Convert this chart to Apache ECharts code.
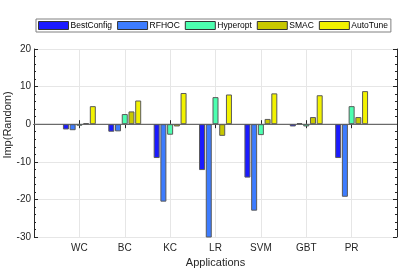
<!DOCTYPE html>
<html><head><meta charset="utf-8">
<script src="https://cdn.jsdelivr.net/npm/echarts@6/dist/echarts.min.js"></script>
<style>html,body{margin:0;padding:0;background:#fff}#c{width:399px;height:269px}</style>
</head><body><div id="c"></div>
<script>
var categories = ['WC','BC','KC','LR','SVM','GBT','PR'];
var seriesNames = ['BestConfig','RFHOC','Hyperopt','SMAC','AutoTune'];
var bestConfig = [-1.4,-2.0,-9.0,-12.2,-14.2,-0.6,-9.0];
var rfhoc      = [-1.6,-1.9,-20.6,-31.0,-23.0,0.3,-19.3];
var hyperopt   = [-0.4,2.7,-2.8,7.2,-2.9,-0.6,4.8];
var smac       = [0.3,3.4,-0.6,-3.1,1.4,1.9,1.9];
var autoTune   = [4.8,6.3,8.3,7.9,8.2,7.7,8.8];
var yTicks = [-30,-20,-10,0,10,20];
var colors = ['#1a1aff','#3d7cff','#4dffb0','#c8c800','#f2f200'];

var allValues = [bestConfig, rfhoc, hyperopt, smac, autoTune];
var xcats = [''].concat(categories).concat(['']);
var font = 'Liberation Sans, Arial, sans-serif';
var series = seriesNames.map(function(n,i){
  return {
    name:n, type:'bar', barWidth:6, barGap:'12%',
    data:['-'].concat(allValues[i]).concat(['-']),
    itemStyle:{color:colors[i], borderColor:'#5a5a5a', borderWidth:1},
    clip:true
  };
});
series.push({type:'line', data:[0,0,0,0,0,0,0,0,0], symbol:'none', silent:true,
  lineStyle:{color:'#8a8a8a', width:1}, z:1, legendHoverLink:false});
var chart = echarts.init(document.getElementById('c'), null, {renderer:'canvas'});
chart.setOption({
  animation:false,
  backgroundColor:'#fff',
  textStyle:{fontFamily:font},
  legend:{
    data:seriesNames, top:19, left:36,
    itemWidth:30, itemHeight:8, itemGap:5,
    borderColor:'#808080', borderWidth:1, padding:[2,3,2,2],
    icon:'rect',
    textStyle:{fontSize:8.5, color:'#000', fontFamily:font, padding:[0,0,0,-3]},
    itemStyle:{borderColor:'#333', borderWidth:1}
  },
  grid:{left:34, right:2, top:49, bottom:32, containLabel:false, outerBoundsMode:'none'},
  xAxis:[{
    type:'category', data:xcats, boundaryGap:false,
    axisLine:{lineStyle:{color:'#262626'}},
    axisTick:{show:true, inside:true, length:4, lineStyle:{color:'#262626'}},
    axisLabel:{fontSize:10, color:'#262626', margin:6},
    splitLine:{show:true, lineStyle:{color:'#e6e6e6'}},
    name:'Applications', nameLocation:'middle', nameGap:20,
    nameTextStyle:{fontSize:11, color:'#262626'}
  },{
    type:'category', data:xcats, boundaryGap:false, position:'top',
    axisLine:{lineStyle:{color:'#262626'}},
    axisTick:{show:true, inside:true, length:4, lineStyle:{color:'#262626'}},
    axisLabel:{show:false}, splitLine:{show:false}
  }],
  yAxis:[{
    type:'value', min:-30, max:20, interval:10,
    axisLine:{show:true, lineStyle:{color:'#262626'}},
    axisTick:{show:true, inside:true, length:4, lineStyle:{color:'#262626'}},
    minorTick:{show:true, splitNumber:5, length:2, lineStyle:{color:'#262626'}},
    axisLabel:{fontSize:10, color:'#262626', margin:3},
    splitLine:{show:true, lineStyle:{color:'#e6e6e6'}},
    name:'Imp(Random)', nameLocation:'middle', nameGap:21, nameMoveOverlap:false,
    nameTextStyle:{fontSize:11, color:'#262626', padding:[0,0,0,36]}
  },{
    type:'value', min:-30, max:20, interval:10, position:'right',
    axisLine:{show:true, lineStyle:{color:'#262626'}},
    axisTick:{show:true, inside:true, length:4, lineStyle:{color:'#262626'}},
    minorTick:{show:true, splitNumber:5, length:2, lineStyle:{color:'#262626'}},
    axisLabel:{show:false}, splitLine:{show:false}
  }],
  series:series
});
</script></body></html>
